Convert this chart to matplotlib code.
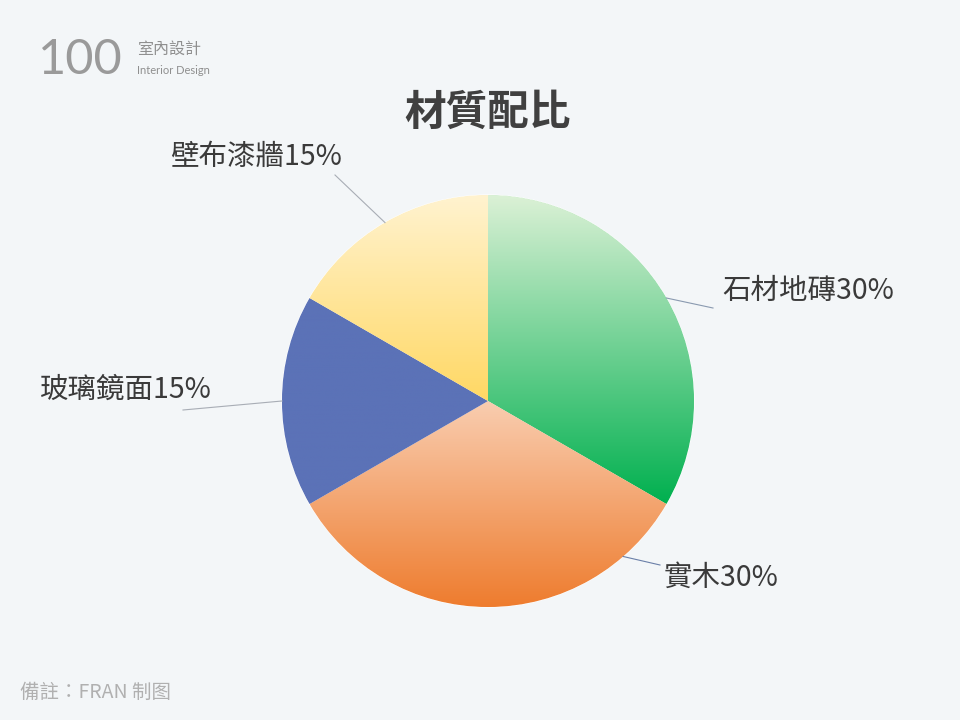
import numpy as np
import matplotlib
matplotlib.use("Agg")
import matplotlib.pyplot as plt
from matplotlib.colors import LinearSegmentedColormap

plt.rcParams['font.family'] = ['Noto Sans CJK TC', 'DejaVu Sans']

# data
labels = ['石材地磚', '實木', '玻璃鏡面', '壁布漆牆']
values = [30, 30, 15, 15]
# gradient colours (top, bottom) per slice
grad = [('#dcf1d6', '#00b04f'), ('#f9cdb0', '#ee7c2e'),
        ('#5b72b7', '#5b72b7'), ('#fff3d0', '#ffd864')]
# where each leader line leaves the pie (degrees) and where the label sits
anchor_deg = [30, -49, 180, 120]
elbow = [(713, 308), (660, 565), (183, 410), (335, 175)]
text_pos = [(722, 291), (664, 578), (40, 390), (170, 157)]
line_col = ['#8a9ab0', '#6a7fa8', '#a8adb5', '#a8adb5']

bg = '#f3f6f8'
W, H = 960, 720
cx, cy, r = 488, H - 401, 206

fig = plt.figure(figsize=(9.6, 7.2), dpi=100, facecolor=bg)
ax = fig.add_axes([0, 0, 1, 1])
ax.set_xlim(0, W)
ax.set_ylim(0, H)
ax.set_aspect('equal')
ax.axis('off')
ax.set_facecolor(bg)

wedges, _ = ax.pie(values, startangle=90, counterclock=False, center=(cx, cy),
                   radius=r, frame=False,
                   wedgeprops=dict(edgecolor='white', linewidth=0.8))

for w, (c0, c1) in zip(wedges, grad):
    w.set_facecolor(c1)
    bb = w.get_path().get_extents(w.get_transform() + ax.transData.inverted())
    cmap = LinearSegmentedColormap.from_list('g', [c1, c0])
    img = ax.imshow(np.linspace(0, 1, 256).reshape(-1, 1), cmap=cmap,
                    extent=[bb.x0, bb.x1, bb.y0, bb.y1], origin='lower',
                    aspect='auto', zorder=w.get_zorder() + 0.1)
    img.set_clip_path(w)

ax.set_xlim(0, W)
ax.set_ylim(0, H)

for lab, v, a, e, t, lc in zip(labels, values, anchor_deg, elbow, text_pos, line_col):
    sx = cx + r * np.cos(np.radians(a))
    sy = cy + r * np.sin(np.radians(a))
    ax.plot([sx, e[0]], [sy, H - e[1]], color=lc, lw=0.8, zorder=5)
    ax.text(t[0], H - t[1], f'{lab}{v}%', fontsize=20.5, color='#3a3a3a',
            ha='left', va='center', zorder=6)

ax.text(488, H - 113, '材質配比', fontsize=30, fontweight='bold',
        color='#404040', ha='center', va='center')

# logo
ax.text(38, H - 60, '100', fontsize=35, color='#9a9a9a', family='Lato',
        fontweight='normal', ha='left', va='center')
ax.text(137, H - 49, '室內設計', fontsize=11.5, color='#8f8f8f',
        ha='left', va='center')
ax.text(137, H - 70, 'Interior Design', fontsize=8, color='#8f8f8f',
        family='Lato', ha='left', va='center')

ax.text(20, H - 692, '備註：FRAN 制图', fontsize=14, color='#b0b0b0',
        ha='left', va='center')

fig.savefig('out.png', dpi=100, facecolor=bg)
